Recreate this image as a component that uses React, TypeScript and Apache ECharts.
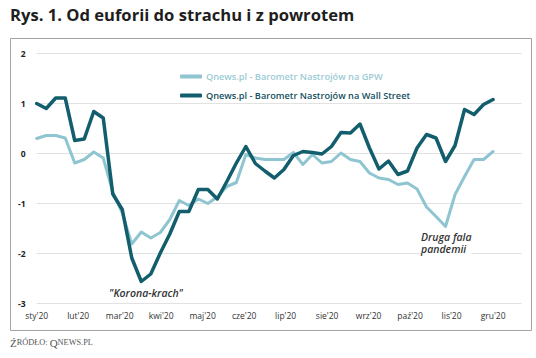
import React, { useEffect, useRef } from "react";
import * as echarts from "echarts";

const months = ["sty'20", "lut'20", "mar'20", "kwi'20", "maj'20", "cze'20", "lip'20", "sie'20", "wrz'20", "paź'20", "lis'20", "gru'20"];

const gpwName = "Qnews.pl - Barometr Nastrojów na GPW";
const wsName = "Qnews.pl - Barometr Nastrojów na Wall Street";

// weekly readings, January -> December 2020
const gpw = [
  0.29, 0.35, 0.35, 0.30, -0.20, -0.13, 0.02, -0.10, -0.78, -1.20,
  -1.82, -1.58, -1.70, -1.59, -1.33, -0.95, -1.05, -0.92, -1.01, -0.88,
  -0.67, -0.59, -0.03, -0.10, -0.13, -0.13, -0.13, 0.01, -0.23, -0.03,
  -0.20, -0.17, 0.00, -0.13, -0.17, -0.40, -0.50, -0.53, -0.63, -0.60,
  -0.72, -1.08, -1.27, -1.47, -0.83, -0.47, -0.13, -0.13, 0.03,
];

const wallStreet = [
  0.99, 0.89, 1.10, 1.10, 0.25, 0.28, 0.83, 0.70, -0.82, -1.13,
  -2.10, -2.57, -2.42, -2.00, -1.62, -1.17, -1.17, -0.73, -0.73, -0.92,
  -0.57, -0.20, 0.13, -0.21, -0.36, -0.50, -0.33, -0.05, 0.03, 0.01,
  -0.02, 0.13, 0.41, 0.40, 0.58, 0.10, -0.32, -0.16, -0.43, -0.36,
  0.10, 0.37, 0.30, -0.17, 0.15, 0.87, 0.77, 0.97, 1.07,
];

const title = "Rys. 1. Od euforii do strachu i z powrotem";
const noteCrash = "\"Korona-krach\"";
const noteWave = ["Druga fala", "pandemii"];

export default function App() {
  const ref = useRef<HTMLDivElement>(null);

  useEffect(() => {
    const chart = echarts.init(ref.current!, null, { renderer: "svg" });
    const step = (months.length - 1) / (gpw.length - 1);
    const toPts = (arr: number[]) => arr.map((v, i) => [i * step, v]);
    const font = "'Open Sans', 'Noto Sans', sans-serif";

    chart.setOption({
      animation: false,
      backgroundColor: "#ffffff",
      textStyle: { fontFamily: font },
      grid: { left: 36.7, right: 14.3, top: 53, bottom: 55 },
      xAxis: {
        type: "value",
        min: 0,
        max: 11.69,
        interval: 1,
        axisLine: { show: false },
        axisTick: { show: false },
        splitLine: { show: false },
        axisLabel: {
          showMaxLabel: false,
          margin: 8,
          fontSize: 8.5,
          color: "#333",
          fontFamily: font,
          formatter: (v: number) => months[Math.round(v)] ?? "",
        },
      },
      yAxis: {
        type: "value",
        min: -3,
        max: 2,
        interval: 1,
        axisLine: { show: false },
        axisTick: { show: false },
        splitLine: { lineStyle: { color: "#e2e2e2", width: 1 } },
        axisLabel: { margin: 11, fontSize: 8.5, fontWeight: "bold", color: "#222", fontFamily: font },
      },
      legend: {
        orient: "vertical",
        left: 175,
        top: 66,
        itemWidth: 22,
        itemHeight: 4,
        itemGap: 8,
        icon: "roundRect",
        textStyle: { fontSize: 9.2, fontWeight: 600, lineHeight: 11, fontFamily: font, padding: [0, 0, 0, -1] },
        data: [
          { name: gpwName, textStyle: { color: "#9ccbd6" } },
          { name: wsName, textStyle: { color: "#14505e" } },
        ],
      },
      series: [
        {
          name: gpwName,
          type: "line",
          data: toPts(gpw),
          showSymbol: false,
          color: "#8ec5d1",
          lineStyle: { width: 3, color: "#8ec5d1", join: "round", cap: "round" },
          z: 2,
        },
        {
          name: wsName,
          type: "line",
          data: toPts(wallStreet),
          showSymbol: false,
          color: "#135e6d",
          lineStyle: { width: 3.5, color: "#135e6d", join: "round", cap: "round" },
          z: 3,
        },
      ],
      graphic: [
        {
          type: "text",
          left: 10,
          top: 6,
          style: { text: title, fontSize: 16.6, fontWeight: "bold", fill: "#1e1e1e", fontFamily: font },
        },
        {
          type: "rect",
          shape: { x: 10.5, y: 38.5, width: 521, height: 292 },
          style: { fill: "none", stroke: "#a3a3a3", lineWidth: 1 },
          silent: true,
        },
        {
          type: "text",
          x: 146,
          y: 293,
          style: {
            text: noteCrash,
            fontSize: 10.5,
            fontStyle: "italic",
            fontWeight: 600,
            fill: "#333",
            align: "center",
            verticalAlign: "middle",
            fontFamily: font,
          },
        },
        {
          type: "text",
          x: 421,
          y: 243,
          z: 10,
          style: {
            text: noteWave.join("\n"),
            fontSize: 10.5,
            lineHeight: 12.5,
            fontStyle: "italic",
            fontWeight: 600,
            fill: "#333",
            align: "left",
            verticalAlign: "middle",
            fontFamily: font,
            backgroundColor: "#ffffff",
          },
        },
        {
          type: "text",
          left: 10,
          top: 337,
          style: {
            text: "{a|Ź}{b|RÓDŁO: }{a|Q}{b|NEWS.PL}",
            rich: {
              a: { fontSize: 11, fill: "#555", fontFamily: "'Liberation Serif', serif" },
              b: { fontSize: 8.3, fill: "#555", fontFamily: "'Liberation Serif', serif" },
            },
          },
        },
      ],
    });

    return () => chart.dispose();
  }, []);

  return (
    <div
      ref={ref}
      style={{ position: "fixed", left: 0, top: 0, width: 536, height: 358, background: "#fff" }}
    />
  );
}
